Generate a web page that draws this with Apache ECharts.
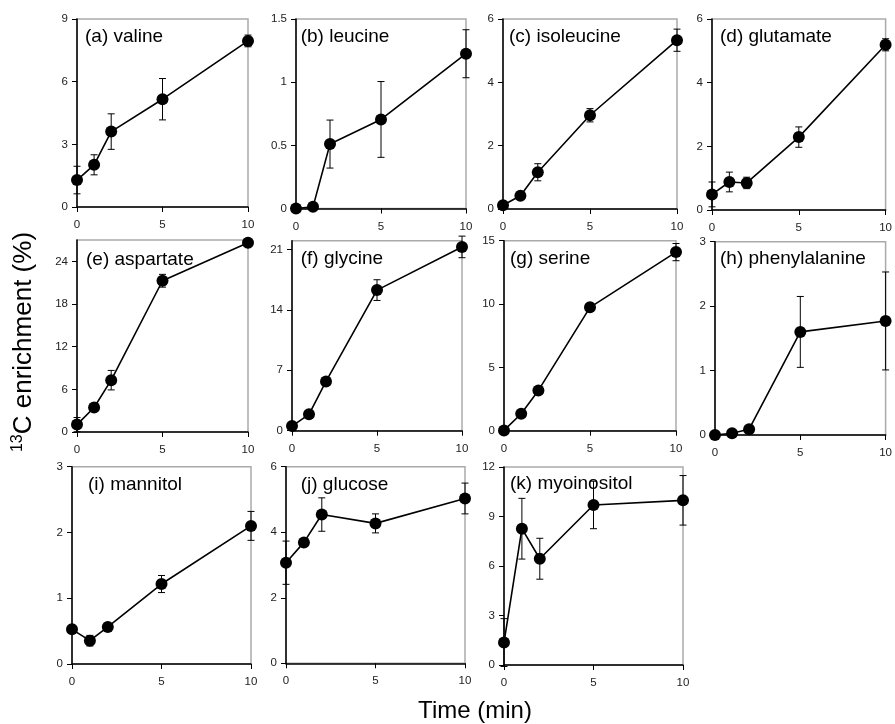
<!DOCTYPE html>
<html>
<head>
<meta charset="utf-8">
<script src="https://cdn.jsdelivr.net/npm/echarts@6/dist/echarts.min.js"></script>
<style>
html,body{margin:0;padding:0;background:#fff;}
#chart{width:895px;height:724px;}
</style>
</head>
<body>
<div id="chart"></div>
<script>
// ---- data ----
const times = [0, 1, 2, 5, 10];
const xTicks = [0, 5, 10];

const valine = [1.29, 2.02, 3.61, 5.16, 7.95];
const valineErr = [0.66, 0.48, 0.85, 0.99, 0.28];
const leucine = [0.0, 0.013, 0.51, 0.705, 1.225];
const leucineErr = [0.005, 0.01, 0.19, 0.30, 0.19];
const isoleucine = [0.12, 0.42, 1.16, 2.96, 5.33];
const isoleucineErr = [0.05, 0.06, 0.27, 0.21, 0.35];
const glutamate = [0.49, 0.88, 0.85, 2.29, 5.19];
const glutamateErr = [0.39, 0.31, 0.18, 0.32, 0.19];
const aspartate = [1.04, 3.44, 7.29, 21.27, 26.6];
const aspartateErr = [1.0, 0.4, 1.37, 0.9, 0.3];
const glycine = [0.54, 1.9, 5.7, 16.28, 21.28];
const glycineErr = [0.2, 0.3, 0.4, 1.2, 1.25];
const serine = [0.02, 1.34, 3.18, 9.74, 14.1];
const serineErr = [0.05, 0.15, 0.2, 0.25, 0.68];
const phenylalanine = [0.0, 0.026, 0.09, 1.60, 1.77];
const phenylalanineErr = [0.01, 0.02, 0.03, 0.55, 0.76];
const mannitol = [0.527, 0.355, 0.563, 1.216, 2.10];
const mannitolErr = [0.04, 0.08, 0.04, 0.13, 0.22];
const glucose = [3.07, 3.69, 4.54, 4.27, 5.03];
const glucoseErr = [0.66, 0.1, 0.51, 0.29, 0.47];
const myoinositol = [1.36, 8.26, 6.44, 9.70, 9.98];
const myoinositolErr = [1.45, 1.84, 1.24, 1.44, 1.5];

const panelNames = ['(a) valine','(b) leucine','(c) isoleucine','(d) glutamate',
  '(e) aspartate','(f) glycine','(g) serine','(h) phenylalanine',
  '(i) mannitol','(j) glucose','(k) myoinositol'];
const panelValues = [valine, leucine, isoleucine, glutamate, aspartate, glycine, serine, phenylalanine, mannitol, glucose, myoinositol];
const panelErrors = [valineErr, leucineErr, isoleucineErr, glutamateErr, aspartateErr, glycineErr, serineErr, phenylalanineErr, mannitolErr, glucoseErr, myoinositolErr];
const yMax = [9, 1.5, 6, 6, 27, 22, 15, 3, 3, 6, 12];
const yInterval = [3, 0.5, 2, 2, 6, 7, 5, 1, 1, 2, 3];
const yHideMax = [false, false, false, false, true, true, false, false, false, false, false];

const yTitleSup = '13';
const yTitleMain = 'C enrichment (%)';
const xTitle = 'Time (min)';

// ---- layout (pixels) ----
const grids = [
  {left:77, top:19, width:171, height:188},
  {left:296, top:19, width:170, height:189.5},
  {left:503, top:19, width:174, height:190},
  {left:712, top:19, width:178, height:191},
  {left:77, top:240, width:171, height:192},
  {left:292, top:240.7, width:170, height:190},
  {left:504, top:240.7, width:172, height:190},
  {left:715, top:241.7, width:176, height:193.3},
  {left:72, top:466.7, width:179, height:197.3},
  {left:286, top:466.7, width:179, height:196.6},
  {left:504, top:467, width:179, height:198}
];
const labelPos = [
  [85,36.5],[300.7,36.5],[509,36.5],[720,36.5],
  [86,259.3],[300.7,259],[510,258.7],[720,258.7],
  [88,484.5],[300.7,484.5],[510,484]
];

const FONT = '"Liberation Sans", Arial, Helvetica, sans-serif';

function renderErr(params, api) {
  const x = api.value(0), lo = api.value(1), hi = api.value(2);
  const pTop = api.coord([x, hi]);
  const pBot = api.coord([x, lo]);
  const w = 3.5;
  const st = {stroke:'#000', lineWidth:1};
  return {
    type:'group',
    children:[
      {type:'line', shape:{x1:pTop[0], y1:pTop[1], x2:pBot[0], y2:pBot[1]}, style:st},
      {type:'line', shape:{x1:pTop[0]-w, y1:pTop[1], x2:pTop[0]+w, y2:pTop[1]}, style:st},
      {type:'line', shape:{x1:pBot[0]-w, y1:pBot[1], x2:pBot[0]+w, y2:pBot[1]}, style:st}
    ]
  };
}

const gridOpt = [], xAxes = [], yAxes = [], series = [], graphics = [];
const axisLabelStyle = {color:'#222', fontSize:11.5, fontFamily:FONT};

for (let i = 0; i < panelNames.length; i++) {
  gridOpt.push(Object.assign({show:true, borderColor:'#aaaaaa', borderWidth:1.5, backgroundColor:'transparent', containLabel:false}, grids[i]));
  xAxes.push({
    type:'value', gridIndex:i, min:0, max:10, interval:5,
    axisLine:{show:true, onZero:false, lineStyle:{color:'#000', width:1.5}},
    axisTick:{show:true, length:5, lineStyle:{color:'#000', width:1}},
    axisLabel:Object.assign({margin:12}, axisLabelStyle),
    splitLine:{show:false}
  });
  yAxes.push({
    type:'value', gridIndex:i, min:0, max:yMax[i], interval:yInterval[i],
    axisLine:{show:true, onZero:false, lineStyle:{color:'#000', width:1.5}},
    axisTick:{show:true, length:5, lineStyle:{color:'#000', width:1}},
    axisLabel:Object.assign({margin:9, showMaxLabel: yHideMax[i] ? false : true}, axisLabelStyle),
    splitLine:{show:false}
  });
  const vals = panelValues[i], errs = panelErrors[i];
  series.push({
    type:'custom', xAxisIndex:i, yAxisIndex:i, z:2, clip:false,
    renderItem:renderErr,
    data: times.map((t, k) => [t, vals[k] - errs[k], vals[k] + errs[k]]),
    silent:true
  });
  series.push({
    type:'line', xAxisIndex:i, yAxisIndex:i, z:3, clip:false,
    data: times.map((t, k) => [t, vals[k]]),
    symbol:'circle', symbolSize:12, showAllSymbol:true,
    lineStyle:{color:'#000', width:1.6},
    itemStyle:{color:'#000'},
    animation:false, silent:true
  });
  graphics.push({
    type:'text', x:labelPos[i][0], y:labelPos[i][1], z:10,
    style:{text:panelNames[i], font:'19px ' + FONT, fill:'#000', align:'left', verticalAlign:'middle'}
  });
}

graphics.push({
  type:'text', x:475, y:711, z:10,
  style:{text:xTitle, font:'24px ' + FONT, fill:'#000', align:'center', verticalAlign:'middle'}
});
graphics.push({
  type:'text', x:24, y:342, rotation:Math.PI/2, z:10,
  style:{
    text:'{s|' + yTitleSup + '}{m|' + yTitleMain + '}',
    align:'center', verticalAlign:'middle',
    rich:{
      s:{fontSize:16, fontFamily:FONT, fill:'#000', color:'#000', verticalAlign:'top', lineHeight:16},
      m:{fontSize:26, fontFamily:FONT, fill:'#000', color:'#000', lineHeight:28}
    }
  }
});

const chart = echarts.init(document.getElementById('chart'), null, {renderer:'canvas'});
chart.setOption({
  animation:false,
  backgroundColor:'#fff',
  grid:gridOpt,
  xAxis:xAxes,
  yAxis:yAxes,
  series:series,
  graphic:graphics
});
</script>
</body>
</html>
